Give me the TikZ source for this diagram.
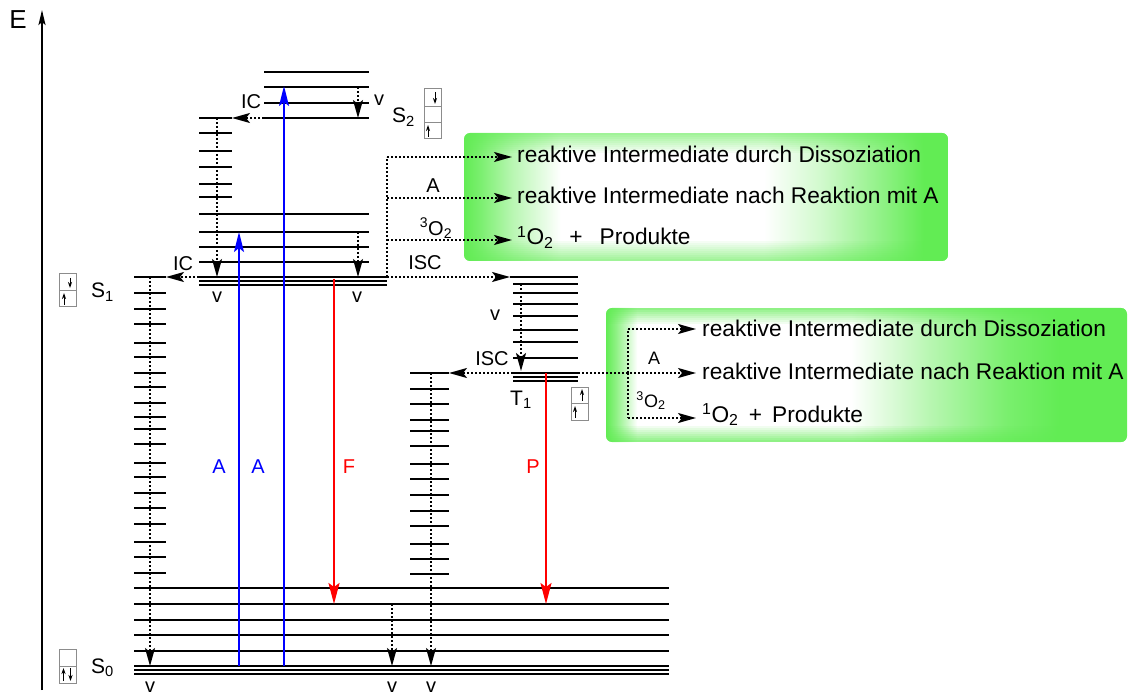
\documentclass[tikz,border=0pt]{standalone}
\usepackage{fontspec}
\setmainfont{Liberation Sans}
\usetikzlibrary{arrows.meta}
\definecolor{boxgreen}{RGB}{98,236,84}
\colorlet{gA}{boxgreen!85!white}
\colorlet{gB}{boxgreen!70!white}
\colorlet{gC}{boxgreen!45!white}
\colorlet{gD}{boxgreen!30!white}
% shading: the path spans 25bp..75bp
\pgfdeclarehorizontalshading{glowone}{100bp}{color(0bp)=(boxgreen); color(25bp)=(boxgreen); color(26.6bp)=(gA); color(30bp)=(gC); color(35bp)=(white); color(56bp)=(white); color(62bp)=(gD); color(68bp)=(gB); color(72.5bp)=(boxgreen); color(100bp)=(boxgreen)}
\pgfdeclarehorizontalshading{glowtwo}{100bp}{color(0bp)=(boxgreen); color(25bp)=(boxgreen); color(26bp)=(gB); color(28bp)=(white); color(48.5bp)=(white); color(56bp)=(gC); color(63.5bp)=(gA); color(68.5bp)=(boxgreen); color(100bp)=(boxgreen)}
\begin{document}
\begin{tikzpicture}[x=1pt,y=-1pt,
  lvl/.style={line width=2pt},
  tri/.style={line width=2pt},
  dotline/.style={line width=2pt, dash pattern=on 2pt off 2pt},
  dotarr/.style={dotline, -{Stealth[length=18pt,width=10pt,inset=4pt]}},
  absarr/.style={blue, line width=2pt, -{Stealth[length=20pt,width=10pt,inset=4pt]}},
  emarr/.style={red, line width=2pt, -{Stealth[length=21pt,width=11pt,inset=4pt]}},
  lbl/.style={inner sep=0pt, font=\fontsize{20}{24}\selectfont},
  smlbl/.style={inner sep=0pt, font=\fontsize{18}{22}\selectfont},
  statelbl/.style={inner sep=0pt, anchor=base west, font=\fontsize{21}{25}\selectfont},
  txt/.style={inner sep=0pt, anchor=base west, font=\fontsize{22.7}{27}\selectfont},
  spinbox/.style={draw=black!45, line width=1pt},
  spin/.style={line width=1pt, -{Stealth[length=6pt,width=4pt]}},
]
\useasboundingbox (0,0) rectangle (1128,695);

% ---------- green boxes ----------
\begin{scope}
\clip[rounded corners=6pt] (464,133) rectangle (948,261);
\shade[shading=glowone] (464,133) rectangle (948,261);
\foreach \k in {0,...,9} {
  \fill[boxgreen, opacity={0.6*(1-\k/10)}] (464,{133+2*\k}) rectangle (948,{135+2*\k});
  \fill[boxgreen, opacity={0.6*(1-\k/10)}] (464,{261-2*\k}) rectangle (948,{259-2*\k});
}
\end{scope}
\begin{scope}
\clip[rounded corners=6pt] (606,308) rectangle (1127,442);
\shade[shading=glowtwo] (606,308) rectangle (1127,442);
\foreach \k in {0,...,7} {
  \fill[boxgreen, opacity={0.7*(1-\k/8)}] (606,{308+2*\k}) rectangle (1127,{310+2*\k});
  \fill[boxgreen, opacity={0.7*(1-\k/8)}] (606,{442-2*\k}) rectangle (1127,{440-2*\k});
}
\end{scope}

% ---------- energy axis ----------
\coordinate (axb) at (42,690);
\coordinate (axt) at (42,10);
\draw[line width=2pt, -{Stealth[length=15pt,width=7pt,inset=3pt]}] (axb) -- (axt);
\node[inner sep=0pt, font=\fontsize{26}{30}\selectfont] (E) at (18,20) {E};

% ---------- levels ----------
% S2
\foreach \y in {72,87,103,118} \draw[lvl] (264,\y) -- (369,\y);
% S1 vibrational
\foreach \y in {118,133,151,167,184,197} \draw[lvl] (199,\y) -- (232,\y);
\foreach \y in {214,232,247,262} \draw[lvl] (199,\y) -- (369,\y);
\foreach \y in {277,281,285} \draw[tri] (199,\y) -- (387,\y);
% S0 vibrational ladder (left)
\foreach \y in {277,293,309,324,343,357,373,387,403,417,429,444,463,477,493,508,524,542,557,573}
  \draw[lvl] (134,\y) -- (166,\y);
% S0 vibrational ladder (middle)
\foreach \y in {373,389,404,420,431,446,464,479,495,511,526,544,559,574}
  \draw[lvl] (410,\y) -- (449,\y);
% T1 vibrational
\draw[lvl] (510,277) -- (578,277);
\foreach \y in {284,293,304,316,330,342,358} \draw[lvl] (513,\y) -- (578,\y);
\foreach \y in {373,377,381} \draw[tri] (513,\y) -- (578,\y);
% S0
\foreach \y in {588,604,620,635,651} \draw[lvl] (134,\y) -- (669,\y);
\foreach \y in {666,670,674} \draw[tri] (134,\y) -- (669,\y);

% ---------- radiative transitions ----------
\draw[absarr] (239,666) -- (239,232);
\draw[absarr] (284,666) -- (284,86);
\draw[emarr] (334,279) -- (334,604);
\draw[emarr] (546,373) -- (546,604);
\node[lbl, text=blue] (A1) at (219,467) {A};
\node[lbl, text=blue] (A2) at (258,467) {A};
\node[lbl, text=red] (F) at (349,467) {F};
\node[lbl, text=red] (P) at (533,467) {P};

% ---------- non-radiative transitions ----------
\draw[dotarr] (358,87) -- (358,118);
\draw[dotarr] (264,118) -- (232,118);
\draw[dotarr] (217,118) -- (217,277);
\draw[dotarr] (358,232) -- (358,277);
\draw[dotarr] (199,277) -- (166,277);
\draw[dotarr] (150,277) -- (150,666);
\draw[dotarr] (392,604) -- (392,666);
\draw[dotarr] (431,373) -- (431,666);
\draw[dotarr] (387,277) -- (510,277);
\draw[dotline] (387,277) -- (387,157);
\draw[dotarr] (387,157) -- (512,157);
\draw[dotarr] (387,198) -- (512,198);
\draw[dotarr] (387,240) -- (512,240);
\draw[dotarr] (521,284) -- (521,371);
\draw[dotarr] (513,373) -- (449,373);
\draw[dotarr] (578,373) -- (696,373);
\draw[dotline] (628,373) -- (628,329);
\draw[dotline] (628,373) -- (628,418);
\draw[dotarr] (628,329) -- (696,329);
\draw[dotarr] (628,418) -- (696,418);

% ---------- labels ----------
\node[lbl] (ic2) at (251,102) {IC};
\node[lbl] (v2) at (379,100) {v};
\node[lbl] (ic1) at (183,264) {IC};
\node[lbl] (v1a) at (217,297) {v};
\node[lbl] (v1b) at (357,297) {v};
\node[lbl] (ra) at (433,186) {A};
\node[lbl] (ro) at (436,228) {\textsuperscript{3}O\textsubscript{2}};
\node[lbl] (isc1) at (425,263) {ISC};
\node[lbl] (vt) at (495,315) {v};
\node[lbl] (isc2) at (492,359) {ISC};
\node[smlbl] (ta) at (654,358) {A};
\node[smlbl] (to) at (651,401) {\textsuperscript{3}O\textsubscript{2}};
\node[lbl] (v0a) at (150,687) {v};
\node[lbl] (v0b) at (392,687) {v};
\node[lbl] (v0c) at (431,687) {v};

\node[statelbl] (S2) at (392,123) {S\textsubscript{2}};
\node[statelbl] (S1) at (91,298) {S\textsubscript{1}};
\node[statelbl] (S0) at (91,673) {S\textsubscript{0}};
\node[statelbl] (T1) at (510,405) {T\textsubscript{1}};

% ---------- products ----------
\node[txt] (p1) at (517,163) {reaktive Intermediate durch Dissoziation};
\node[txt] (p2) at (517,204) {reaktive Intermediate nach Reaktion mit A};
\node[txt] (p3) at (517,245) {\textsuperscript{1}O\textsubscript{2}\hspace{0.7em}+\hspace{0.75em}Produkte};
\node[txt] (q1) at (702,336) {reaktive Intermediate durch Dissoziation};
\node[txt] (q2) at (702,379) {reaktive Intermediate nach Reaktion mit A};
\node[txt] (q3) at (702,422) {\textsuperscript{1}O\textsubscript{2}\hspace{0.45em}+\hspace{0.45em}Produkte};

% ---------- spin boxes ----------
% S1
\draw[spinbox] (59,274) rectangle (76,307); \draw[spinbox] (59,290.5) -- (76,290.5);
\draw[spin] (70,278) -- (70,288); \draw[spin] (64,305) -- (64,293);
% S2
\draw[spinbox] (424,89) rectangle (441,139);
\draw[spinbox] (424,106.5) -- (441,106.5); \draw[spinbox] (424,122.5) -- (441,122.5);
\draw[spin] (435,92) -- (435,104); \draw[spin] (428,137) -- (428,125);
% T1
\draw[spinbox] (571,387) rectangle (588,420); \draw[spinbox] (571,403.5) -- (588,403.5);
\draw[spin] (582,401) -- (582,389); \draw[spin] (575,418) -- (575,406);
% S0
\draw[spinbox] (59,649) rectangle (76,683); \draw[spinbox] (59,666) -- (76,666);
\draw[spin] (63.5,681) -- (63.5,668); \draw[spin] (70.5,668) -- (70.5,681);
\end{tikzpicture}
\end{document}
